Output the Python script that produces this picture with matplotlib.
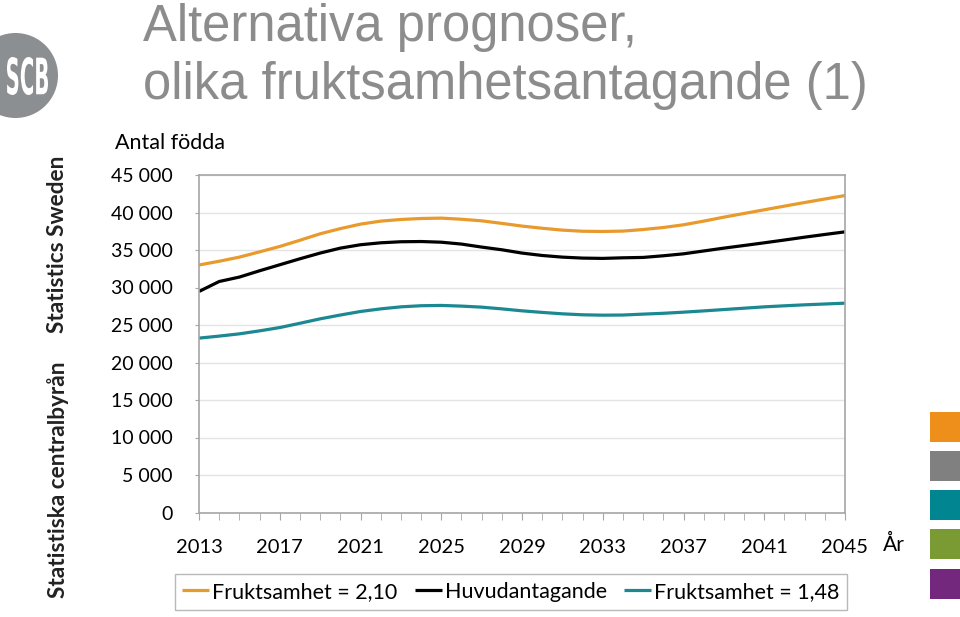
import matplotlib
matplotlib.use("Agg")
import matplotlib.pyplot as plt
from matplotlib.patches import Ellipse, Rectangle, PathPatch
from matplotlib.textpath import TextPath
from matplotlib.font_manager import FontProperties
from matplotlib.transforms import Affine2D

years = list(range(2013, 2046))

# Fruktsamhet = 2,10
high = [33000, 33500, 34050, 34750, 35470, 36300, 37160, 37850, 38450, 38850,
        39070, 39200, 39250, 39100, 38890, 38550, 38190, 37900, 37650, 37500,
        37470, 37520, 37730, 38000, 38360, 38850, 39380, 39870, 40360, 40850,
        41330, 41800, 42260]
# Huvudantagande
main = [29470, 30800, 31390, 32230, 33030, 33830, 34590, 35250, 35700, 35960,
        36100, 36130, 36040, 35790, 35390, 35030, 34590, 34270, 34050, 33920,
        33880, 33960, 34010, 34230, 34490, 34870, 35250, 35600, 35960, 36330,
        36710, 37070, 37420]
# Fruktsamhet = 1,48
low = [23250, 23520, 23820, 24220, 24660, 25230, 25820, 26330, 26800, 27150,
       27420, 27570, 27610, 27520, 27380, 27150, 26890, 26680, 26490, 26360,
       26310, 26330, 26450, 26560, 26710, 26880, 27060, 27240, 27420, 27560,
       27690, 27800, 27910]

series_names = ["Fruktsamhet = 2,10", "Huvudantagande", "Fruktsamhet = 1,48"]
series_colors = ["#E99A2C", "#000000", "#1B8892"]
yticks = list(range(0, 45001, 5000))
xticks = list(range(2013, 2046, 4))
palette = ["#EE8F1C", "#808080", "#008591", "#7A9A33", "#74287D"]

W, H = 960, 617
fx = lambda px: px / W
fy = lambda py: 1 - py / H

plt.rcParams['font.family'] = ['Lato', 'DejaVu Sans']
fig = plt.figure(figsize=(9.6, 6.17), dpi=100)
ax = fig.add_axes([fx(199), fy(512.5), (845 - 199) / W, (512.5 - 175) / H])

for vals, name, col in zip([high, main, low], series_names, series_colors):
    ax.plot(years, vals, color=col, lw=2.3, label=name, solid_capstyle='butt')

ax.set_xlim(2013, 2045)
ax.set_ylim(0, 45000)
ax.set_xticks(xticks)
ax.set_xticks(years, minor=True)
ax.set_yticks(yticks)
ax.set_yticklabels([f"{v:,}".replace(",", " ") for v in yticks])
ax.tick_params(axis='x', which='both', length=5, color='#a6a6a6', pad=14,
               labelsize=14.5)
ax.tick_params(axis='y', length=3, color='#a6a6a6', pad=16, labelsize=14)
ax.yaxis.grid(True, color='#e4e4e4', lw=1)
ax.set_axisbelow(True)
for s in ax.spines.values():
    s.set_color('#a6a6a6')
    s.set_linewidth(1.2)

fig.text(fx(115), fy(143), "Antal födda", fontsize=15.5, ha='left',
         va='center')
fig.text(fx(883), fy(545), "År", fontsize=15, ha='left', va='center')

fig.legend(loc='center', bbox_to_anchor=(fx(511), fy(592)), ncol=3,
           frameon=True, fancybox=False, edgecolor='#a6a6a6', fontsize=15.5,
           handlelength=1.25, handletextpad=0.15, columnspacing=0.8,
           borderpad=0.35)

# title
title_font = ['Liberation Sans', 'DejaVu Sans']
fig.text(fx(143), fy(40.5), "Alternativa prognoser,", fontsize=36.5,
         color='#8c8c8c', family=title_font, ha='left', va='baseline')
fig.text(fx(143), fy(99), "olika fruktsamhetsantagande (1)", fontsize=36.5,
         color='#8c8c8c', family=title_font, ha='left', va='baseline')

# side texts
fig.text(fx(58), fy(244), "Statistics Sweden", rotation=90, fontsize=16.3,
         fontweight='bold', color='#222222', ha='center', va='center')
fig.text(fx(58), fy(480), "Statistiska centralbyrån", rotation=90,
         fontsize=16.3, fontweight='bold', color='#222222', ha='center',
         va='center')

# logo
fig.add_artist(Ellipse((fx(15.5), fy(75.5)), 85 / W, 85 / H,
                       transform=fig.transFigure, fc='#8c8f91', ec='none'))
tp = TextPath((0, 0), "SCB", size=10,
              prop=FontProperties(family='DejaVu Sans', weight='bold'))
ext = tp.get_extents()
tr = (Affine2D().translate(-ext.x0, -ext.y0)
      .scale((41 / W) / ext.width, (38 / H) / ext.height)
      .translate(fx(7), fy(95)))
fig.add_artist(PathPatch(tp, transform=tr + fig.transFigure, fc='white',
                         ec='none'))

# colour squares at right edge
tops = [411.5, 451, 490, 529, 568.5]
for top, c in zip(tops, palette):
    fig.add_artist(Rectangle((fx(930), fy(top + 30)), 30 / W, 30 / H,
                             transform=fig.transFigure, fc=c, ec='none'))

fig.savefig("out.png", dpi=100)
